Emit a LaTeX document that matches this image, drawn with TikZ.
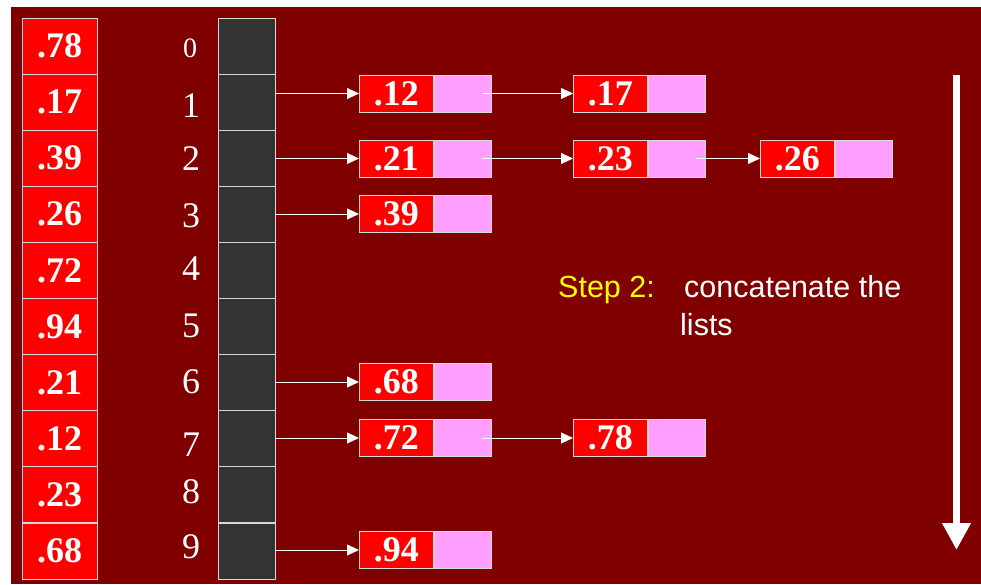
\documentclass[tikz,border=0pt]{standalone}
\usepackage{fontspec}
\setmainfont{Liberation Serif}
\newfontfamily\arl{Liberation Sans}
\usetikzlibrary{arrows.meta}
\definecolor{bgred}{HTML}{800000}
\definecolor{cellred}{HTML}{FF0000}
\definecolor{cellpink}{HTML}{FF9EFF}
\definecolor{cellgray}{HTML}{333333}
\definecolor{edgegray}{HTML}{D8D8D8}
\definecolor{stepyellow}{HTML}{FFFF00}
\tikzset{
  valcell/.style={draw=edgegray, line width=0.8pt, fill=cellred, minimum width=75pt, minimum height=56pt, inner sep=0pt, text=white, font=\fontsize{36}{40}\selectfont\bfseries},
  bucketcell/.style={draw=edgegray, line width=0.8pt, fill=cellgray, minimum width=57pt, minimum height=56pt, inner sep=0pt},
  idx/.style={text=white, anchor=base, inner sep=0pt, font=\fontsize{36}{40}\selectfont},
  lred/.style={draw=edgegray, line width=0.8pt, fill=cellred, minimum width=74pt, minimum height=37pt, inner sep=0pt, anchor=west, text=white, font=\fontsize{36}{40}\selectfont\bfseries},
  lpink/.style={draw=edgegray, line width=0.8pt, fill=cellpink, minimum width=57pt, minimum height=37pt, inner sep=0pt, anchor=west},
  link/.style={draw=white, line width=0.9pt, -{Triangle[length=12pt,width=11pt]}},
  steptext/.style={anchor=base west, inner sep=0pt, font=\arl\fontsize{30.5}{36}\selectfont}
}
\begin{document}
\begin{tikzpicture}[x=1pt,y=-1pt]
\useasboundingbox (0,0) rectangle (981,584);
\fill[bgred] (11,7) rectangle (981,584);
% left array
\foreach \v [count=\i from 0] in {.78,.17,.39,.26,.72,.94,.21,.12,.23,.68}
  \node[valcell] (a\i) at (59.5,{18+56.1*\i+28}) {\v};
% bucket array
\foreach \i in {0,...,9}
  \node[bucketcell] (b\i) at (246.5,{18+56.1*\i+28}) {};
% index labels
\node[idx, font=\fontsize{28}{32}\selectfont] (i0) at (190,57) {0};
\node[idx] (i1) at (191,117) {1};
\node[idx] (i2) at (191,170) {2};
\node[idx] (i3) at (191,227) {3};
\node[idx] (i4) at (191,280) {4};
\node[idx] (i5) at (191,337) {5};
\node[idx] (i6) at (191,393) {6};
\node[idx] (i7) at (191,456) {7};
\node[idx] (i8) at (191,503) {8};
\node[idx] (i9) at (191,558) {9};
% list nodes
\node[lred] (r12) at (359,93.5) {.12}; \node[lpink] (p12) at (r12.east) {};
\node[lred] (r17) at (573,93.5) {.17}; \node[lpink] (p17) at (r17.east) {};
\node[lred] (r21) at (359,158.5) {.21}; \node[lpink] (p21) at (r21.east) {};
\node[lred] (r23) at (573,158.5) {.23}; \node[lpink] (p23) at (r23.east) {};
\node[lred] (r26) at (760,158.5) {.26}; \node[lpink] (p26) at (r26.east) {};
\node[lred] (r39) at (359,214) {.39}; \node[lpink] (p39) at (r39.east) {};
\node[lred] (r68) at (359,382) {.68}; \node[lpink] (p68) at (r68.east) {};
\node[lred] (r72) at (359,438) {.72}; \node[lpink] (p72) at (r72.east) {};
\node[lred] (r78) at (573,438) {.78}; \node[lpink] (p78) at (r78.east) {};
\node[lred] (r94) at (359,550) {.94}; \node[lpink] (p94) at (r94.east) {};
% bucket links
\draw[link] (b1.east |- r12.west) -- (r12.west);
\draw[link] (b2.east |- r21.west) -- (r21.west);
\draw[link] (b3.east |- r39.west) -- (r39.west);
\draw[link] (b6.east |- r68.west) -- (r68.west);
\draw[link] (b7.east |- r72.west) -- (r72.west);
\draw[link] (b9.east |- r94.west) -- (r94.west);
% next links
\draw[link] ([xshift=-10pt]p12.east) -- (r17.west);
\draw[link] ([xshift=-10pt]p21.east) -- (r23.west);
\draw[link] ([xshift=-10pt]p23.east) -- (r26.west);
\draw[link] ([xshift=-10pt]p72.east) -- (r78.west);
% step text
\node[steptext, text=stepyellow] (s1) at (558,297) {Step 2:};
\node[steptext, text=white] (s2) at (684,297) {concatenate the};
\node[steptext, text=white] (s3) at (680,335) {lists};
% big arrow
\coordinate (ta) at (956.5,75);
\coordinate (tb) at (956.5,550);
\draw[white, line width=7pt, -{Triangle[length=27pt,width=27pt]}] (ta) -- (tb);
\end{tikzpicture}
\end{document}
